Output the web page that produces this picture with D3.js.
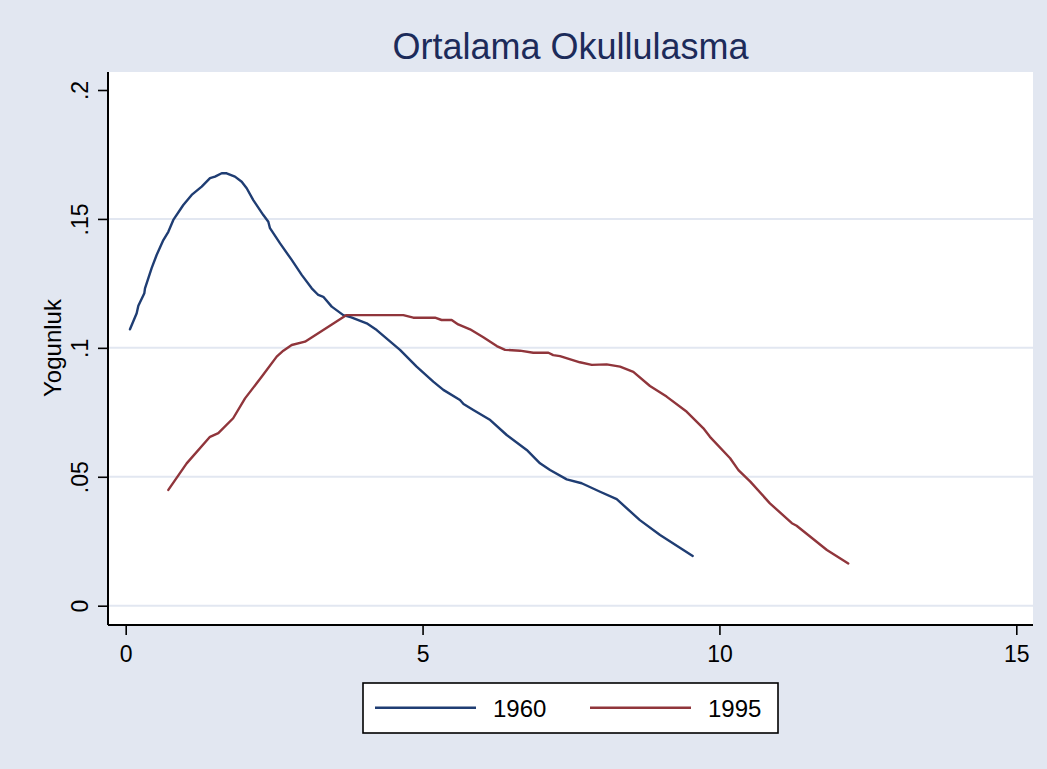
<!DOCTYPE html>
<html>
<head>
<meta charset="utf-8">
<script src="https://cdn.jsdelivr.net/npm/d3@7/dist/d3.min.js"></script>
<style>
  html, body { margin: 0; padding: 0; background: #e2e7f1; }
  svg { display: block; }
  text { font-family: "Liberation Sans", Arial, sans-serif; }
</style>
</head>
<body>
<svg id="chart" width="1047" height="769"></svg>
<script>
const titleText = "Ortalama Okullulasma";
const yTitle = "Yogunluk";
const xTicks = [0, 5, 10, 15];
const yTicks = [0, 0.05, 0.1, 0.15, 0.2];
const yTickLabels = ["0", ".05", ".1", ".15", ".2"];
const gridValues = [0, 0.05, 0.1, 0.15];
const seriesNames = ["1960", "1995"];

const x1960 = [0.072, 0.185, 0.213, 0.314, 0.325, 0.437, 0.521, 0.634, 0.718, 0.802, 0.970, 1.111, 1.28, 1.42, 1.504, 1.617, 1.70, 1.84, 1.954, 2.038, 2.149, 2.318, 2.402, 2.43, 2.60, 2.796, 2.964, 3.133, 3.244, 3.328, 3.47, 3.665, 3.80, 4.059, 4.228, 4.62, 4.90, 5.18, 5.35, 5.63, 5.69, 5.855, 6.14, 6.417, 6.754, 6.978, 7.147, 7.428, 7.68, 7.99, 8.27, 8.66, 9.0, 9.55];
const y1960 = [0.1072, 0.1134, 0.1163, 0.1212, 0.1231, 0.1309, 0.1360, 0.1418, 0.1450, 0.1496, 0.1554, 0.1593, 0.1625, 0.1658, 0.1664, 0.1677, 0.1677, 0.1664, 0.1644, 0.1619, 0.1573, 0.1515, 0.1489, 0.1464, 0.1405, 0.1341, 0.1283, 0.1231, 0.1205, 0.1198, 0.1160, 0.1127, 0.1118, 0.1095, 0.1069, 0.0992, 0.0927, 0.0869, 0.0837, 0.0798, 0.0782, 0.0759, 0.0720, 0.0662, 0.0604, 0.0552, 0.0526, 0.0490, 0.0475, 0.0442, 0.0413, 0.0332, 0.0274, 0.0193];

const x1995 = [0.718, 1.027, 1.42, 1.56, 1.81, 2.01, 2.29, 2.543, 2.655, 2.796, 3.02, 3.328, 3.72, 4.676, 4.844, 5.21, 5.32, 5.49, 5.60, 5.80, 6.023, 6.25, 6.39, 6.64, 6.865, 7.12, 7.20, 7.315, 7.65, 7.85, 8.10, 8.326, 8.55, 8.83, 9.11, 9.45, 9.73, 9.84, 10.18, 10.32, 10.52, 10.85, 11.22, 11.30, 11.81, 12.17];
const y1995 = [0.0449, 0.0552, 0.0655, 0.0669, 0.0727, 0.0804, 0.0888, 0.0966, 0.0989, 0.1011, 0.1024, 0.1069, 0.1127, 0.1127, 0.1117, 0.1117, 0.1108, 0.1108, 0.1091, 0.1072, 0.1041, 0.1007, 0.0992, 0.0989, 0.0981, 0.0981, 0.0972, 0.0968, 0.0944, 0.0934, 0.0936, 0.0927, 0.0907, 0.0852, 0.0811, 0.0752, 0.0688, 0.0655, 0.0572, 0.0526, 0.0481, 0.0397, 0.0320, 0.0310, 0.0216, 0.0164];

const colors = ["#1f3d73", "#90353b"];

const svg = d3.select("#chart");
const plot = { left: 108, right: 1033, top: 72, bottom: 625 };

const x = d3.scaleLinear().domain([0, 15]).range([125.7, 1016.3]);
const y = d3.scaleLinear().domain([0, 0.2]).range([605.7, 90]);

// background
svg.append("rect").attr("x", 0).attr("y", 0).attr("width", 1047).attr("height", 769).attr("fill", "#e2e7f1");
// plot area
svg.append("rect").attr("x", plot.left).attr("y", plot.top)
  .attr("width", plot.right - plot.left).attr("height", plot.bottom - plot.top)
  .attr("fill", "#ffffff");

// gridlines
svg.append("g").selectAll("line").data(gridValues).join("line")
  .attr("x1", plot.left).attr("x2", plot.right)
  .attr("y1", d => y(d)).attr("y2", d => y(d))
  .attr("stroke", "#e2e7f1").attr("stroke-width", 2);

// title
svg.append("text").attr("x", (plot.left + plot.right) / 2).attr("y", 59)
  .attr("text-anchor", "middle").attr("font-size", 36).attr("fill", "#1c2b5a")
  .text(titleText);

// lines
const line = d3.line().x(d => x(d[0])).y(d => y(d[1]));
const data1960 = x1960.map((v, i) => [v, y1960[i]]);
const data1995 = x1995.map((v, i) => [v, y1995[i]]);
[data1960, data1995].forEach((d, i) => {
  svg.append("path").datum(d).attr("d", line).attr("fill", "none")
    .attr("stroke", colors[i]).attr("stroke-width", 2.4)
    .attr("stroke-linejoin", "round").attr("stroke-linecap", "round");
});

// y axis
const yAxis = d3.axisLeft(y).tickValues(yTicks).tickSize(10).tickPadding(0)
  .tickFormat((d, i) => yTickLabels[i]);
const gy = svg.append("g").attr("transform", `translate(${plot.left},0)`).call(yAxis);
gy.select(".domain").attr("d", `M0,${plot.top}V${plot.bottom}`).attr("stroke", "#000").attr("stroke-width", 2);
gy.selectAll(".tick line").attr("stroke", "#000").attr("stroke-width", 1.6);
gy.selectAll(".tick text").attr("font-size", 23).attr("fill", "#000")
  .attr("font-family", "Liberation Sans, Arial, sans-serif")
  .attr("transform", "rotate(-90)")
  .attr("x", 0).attr("y", -20).attr("dy", 0)
  .attr("text-anchor", "middle");

// x axis
const xAxis = d3.axisBottom(x).tickValues(xTicks).tickSize(10).tickPadding(0)
  .tickFormat(d3.format("d"));
const gx = svg.append("g").attr("transform", `translate(0,${plot.bottom})`).call(xAxis);
gx.select(".domain").attr("d", `M${plot.left},0H${plot.right}`).attr("stroke", "#000").attr("stroke-width", 2);
gx.selectAll(".tick line").attr("stroke", "#000").attr("stroke-width", 1.6);
gx.selectAll(".tick text").attr("font-size", 23).attr("fill", "#000")
  .attr("font-family", "Liberation Sans, Arial, sans-serif")
  .attr("y", 37).attr("dy", 0);

// y title
svg.append("text").attr("transform", `translate(61,348) rotate(-90)`)
  .attr("text-anchor", "middle").attr("font-size", 24).attr("fill", "#000")
  .text(yTitle);

// legend
const lg = svg.append("g");
lg.append("rect").attr("x", 363).attr("y", 683).attr("width", 415).attr("height", 50)
  .attr("fill", "#fff").attr("stroke", "#000").attr("stroke-width", 1.6);
const legX = [375, 590];
seriesNames.forEach((name, i) => {
  lg.append("line").attr("x1", legX[i]).attr("x2", legX[i] + 101)
    .attr("y1", 707.7).attr("y2", 707.7).attr("stroke", colors[i]).attr("stroke-width", 2.4);
  lg.append("text").attr("x", legX[i] + 118).attr("y", 716.5)
    .attr("font-size", 24).attr("fill", "#000").text(name);
});
</script>
</body>
</html>
